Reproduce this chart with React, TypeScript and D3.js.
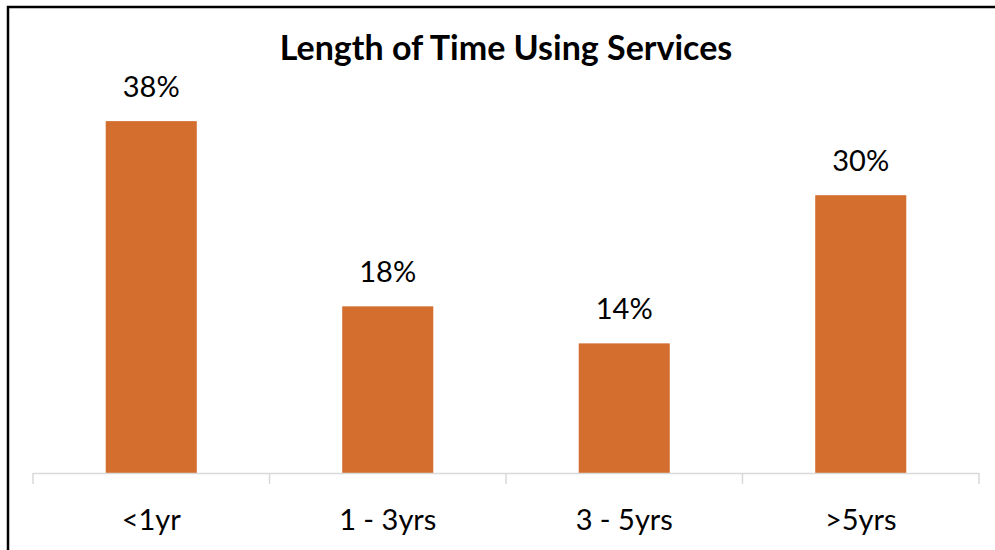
import React from "react";
import * as d3 from "d3";

const categories = ["<1yr", "1 - 3yrs", "3 - 5yrs", ">5yrs"];
const shares = [38, 18, 14, 30];
const chartTitle = "Length of Time Using Services";

const W = 995;
const H = 550;
const FONT = "Lato, 'Open Sans', sans-serif";

export default function App() {
  const x = d3.scaleBand<string>().domain(categories).range([33, 979]).paddingInner(0.615).paddingOuter(0.3075);
  const y = d3.scaleLinear().domain([0, 40]).range([473, 102.6]);
  const band = d3.scaleBand<string>().domain(categories).range([33, 979]);
  const tickXs = [...categories.map((c) => band(c) as number), 979];

  return (
    <div style={{ position: "absolute", left: 0, top: 0 }}>
      <svg width={W} height={H} style={{ display: "block", background: "#fff" }}>
        <rect x={8} y={7} width={1100} height={700} fill="none" stroke="#000" strokeWidth={2.5} />
        <text x={506} y={60} textAnchor="middle" fontFamily={FONT} fontWeight={700} fontSize={34} fill="#000">
          {chartTitle}
        </text>
        {categories.map((c, i) => {
          const bx = x(c) as number;
          const bw = x.bandwidth();
          return (
            <g key={c}>
              <rect x={bx} y={y(shares[i])} width={bw} height={y(0) - y(shares[i])} fill="#D36E2E" />
              <text x={bx + bw / 2} y={y(shares[i]) - 24} textAnchor="middle" fontFamily={FONT} fontSize={29} fill="#000">
                {shares[i]}%
              </text>
              <text x={bx + bw / 2} y={530} textAnchor="middle" fontFamily={FONT} fontSize={29} fill="#000">
                {c}
              </text>
            </g>
          );
        })}
        <line x1={33} x2={979} y1={473.5} y2={473.5} stroke="#D9D9D9" strokeWidth={1.5} />
        {tickXs.map((tx, i) => (
          <line key={i} x1={tx} x2={tx} y1={473} y2={484} stroke="#D9D9D9" strokeWidth={1.5} />
        ))}
      </svg>
    </div>
  );
}
